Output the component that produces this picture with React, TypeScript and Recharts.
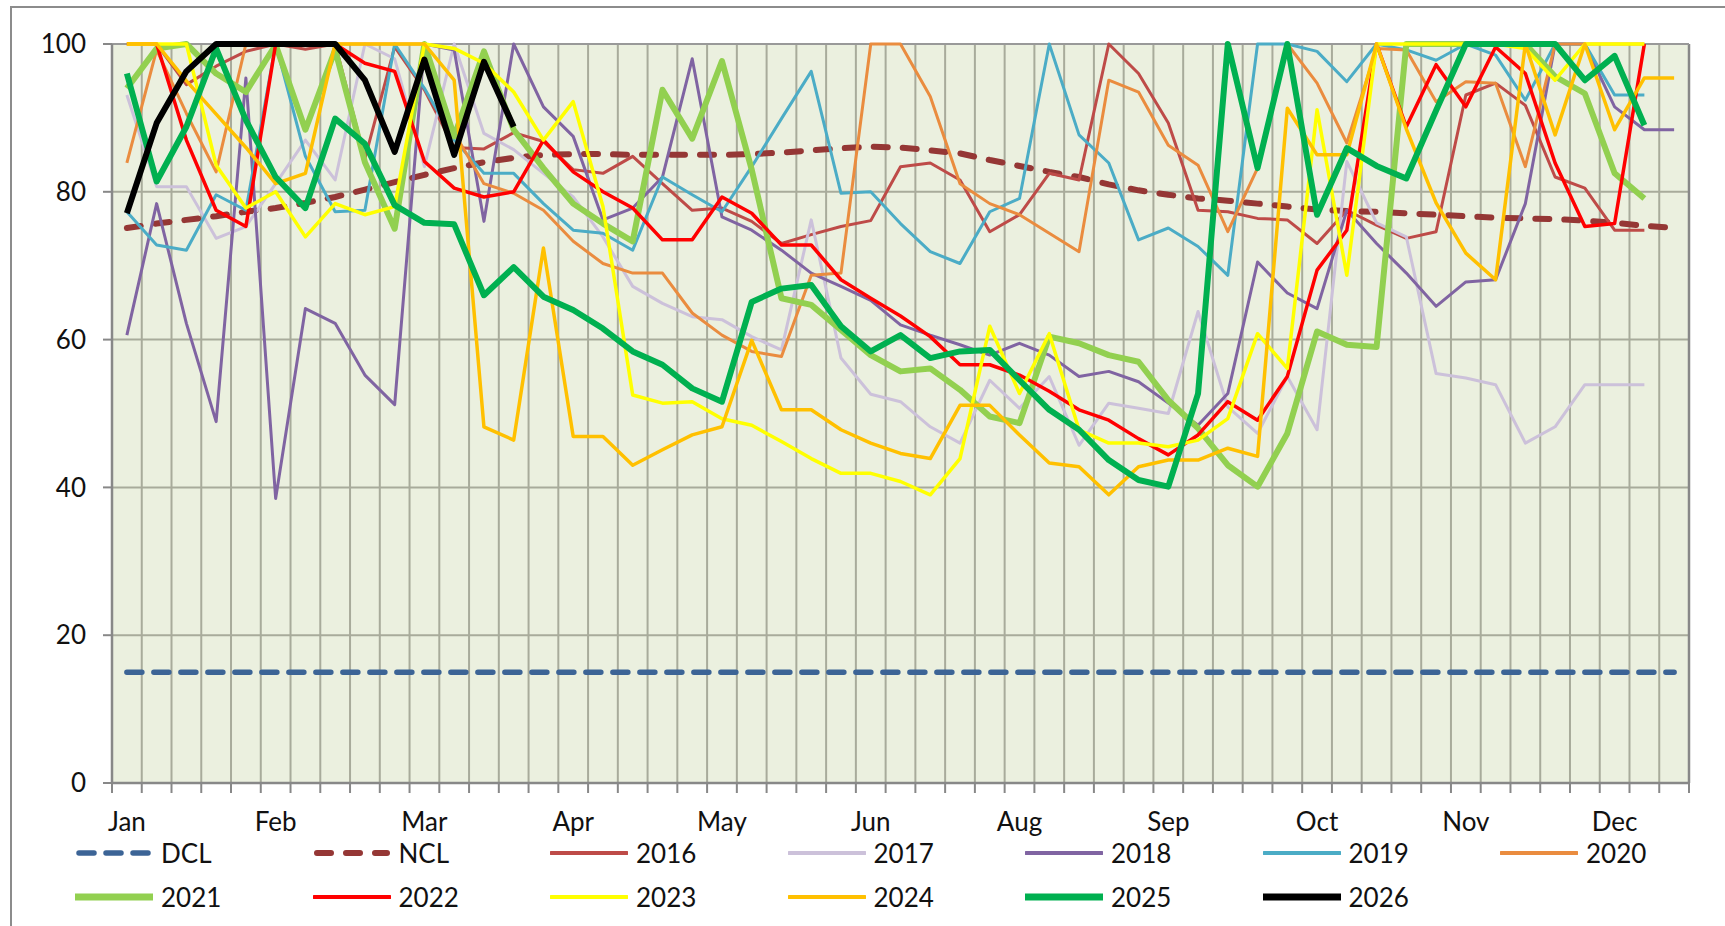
import React from "react";
import { LineChart, Line, XAxis, YAxis, CartesianGrid, ReferenceLine } from "recharts";

// weekly readings, 53 weeks per year, labels every 5th week
const monthLabels = ["Jan", "Feb", "Mar", "Apr", "May", "Jun", "Aug", "Sep", "Oct", "Nov", "Dec"];
const weekCount = 53;
const yTicks = [0, 20, 40, 60, 80, 100];

const dcl = [
  15, 15, 15, 15, 15, 15, 15, 15, 15, 15, 15, 15, 15, 15, 15, 15, 15, 15, 15, 15, 15, 15, 15, 15, 15, 15, 15,
  15, 15, 15, 15, 15, 15, 15, 15, 15, 15, 15, 15, 15, 15, 15, 15, 15, 15, 15, 15, 15, 15, 15, 15, 15, 15,
];
const ncl = [
  75.1, 75.7, 76.2, 76.7, 77.3, 77.8, 78.5, 79.3, 80.3, 81.3, 82.3, 83.2, 84, 84.6, 85, 85.1, 85.1, 85, 85, 85,
  85, 85.1, 85.3, 85.6, 85.9, 86.1, 86, 85.6, 85.2, 84.3, 83.5, 82.7, 82, 81, 80.2, 79.6, 79.1, 78.8, 78.4, 78,
  77.6, 77.4, 77.3, 77.1, 76.9, 76.7, 76.5, 76.4, 76.3, 76.1, 75.8, 75.4, 75.1,
];
const y2016 = [
  100, 100, 94.5, 97, 99, 100, 99.3, 100, 84.5, 99.6, 93.8, 86, 85.8, 88, 86.8, 83, 82.5, 84.8, 81.1, 77.5, 77.8,
  76, 73, 74.2, 75.3, 76.1, 83.4, 83.9, 81.6, 74.6, 76.9, 82.5, 81.6, 100, 96, 89.3, 77.5, 77.3, 76.4, 76.2, 73,
  77.5, 75.5, 73.7, 74.6, 93.1, 94.7, 91.7, 82, 80.5, 74.8, 74.8,
];
const y2017 = [
  93.1, 80.7, 80.7, 73.7, 75.3, 81.1, 87, 81.6, 100, 98, 83.4, 100, 87.9, 85.7, 82.5, 79.3, 73.9, 67.2, 64.9,
  63.1, 62.7, 60.4, 58.6, 76.2, 57.5, 52.6, 51.6, 48.2, 46, 54.5, 50.7, 55, 45.7, 51.4, 50.7, 50, 63.8, 50.9,
  47.3, 55, 47.8, 84.1, 75.8, 73.9, 55.4, 54.8, 53.9, 46, 48.2, 53.9, 53.9, 53.9,
];
const y2018 = [
  60.6, 78.4, 62.2, 48.9, 95.4, 38.5, 64.2, 62.2, 55.2, 51.2, 100, 99.2, 76, 100, 91.5, 87.5, 76.2, 77.8, 82, 98,
  76.6, 74.8, 72.1, 69, 67.2, 65.3, 62, 60.6, 59.3, 57.9, 59.5, 57.9, 55, 55.7, 54.3, 51.4, 48.4, 52.7, 70.5,
  66.3, 64.2, 77.5, 73, 69, 64.5, 67.8, 68.1, 78.4, 100, 100, 91.5, 88.4, 88.4,
];
const y2019 = [
  77.3, 72.8, 72.1, 79.6, 77.5, 100, 84.8, 77.3, 77.5, 100, 94, 87, 82.5, 82.5, 78.4, 74.8, 74.4, 72.1, 82, 79.6,
  77.3, 83.4, 89.9, 96.3, 79.8, 80, 75.7, 71.9, 70.3, 77.3, 79.1, 100, 87.7, 83.9, 73.5, 75.1, 72.6, 68.7, 100,
  100, 99, 94.9, 100, 99.2, 97.8, 100, 98.5, 92.4, 100, 100, 93.1, 93.1,
];
const y2020 = [
  83.9, 99.2, 90.6, 82.7, 100, 100, 100, 100, 100, 100, 100, 88, 81.1, 79.8, 77.5, 73.3, 70.3, 69, 69, 63.6, 60.6,
  58.4, 57.7, 68.7, 69, 100, 100, 92.9, 81.1, 78.4, 76.9, 74.4, 71.9, 95.1, 93.5, 86.3, 83.6, 74.6, 83.2, 100,
  94.7, 86.6, 99.4, 99.2, 92.2, 94.9, 94.7, 83.4, 100, 100, 100, 100,
];
const y2021 = [
  94, 99.4, 100, 96, 93.5, 99.9, 88.4, 99.2, 84, 75, 100, 87.5, 99, 88.4, 83.2, 78.4, 75.7, 73.3, 93.8, 87.2, 97.7,
  83, 65.6, 64.7, 61.3, 57.9, 55.7, 56.1, 53.2, 49.6, 48.7, 60.4, 59.5, 57.9, 57, 51.8, 48, 43, 40.1, 47.3, 61.1,
  59.3, 59, 100, 100, 100, 100, 100, 95.6, 93.3, 82.5, 79.1,
];
const y2022 = [
  100, 100, 87, 77.5, 75.3, 100, 100, 100, 97.4, 96.3, 84.1, 80.5, 79.3, 80, 87, 82.7, 80, 77.8, 73.5, 73.5, 79.3,
  77.1, 72.8, 72.8, 68.1, 65.6, 63.2, 60.4, 56.6, 56.6, 55.2, 53, 50.5, 49.1, 46.6, 44.4, 47.1, 51.6, 49.1, 55,
  69.4, 74.8, 100, 88.8, 97.2, 91.5, 99.6, 96, 83.9, 75.3, 75.7, 100,
];
const y2023 = [
  100, 100, 100, 83.6, 77.8, 80, 73.9, 78.4, 76.9, 78, 100, 99.4, 97.4, 93.5, 87, 92.2, 78, 52.5, 51.4, 51.6, 49.3,
  48.4, 46.2, 43.9, 41.9, 41.9, 40.8, 39, 43.9, 61.8, 52.7, 60.8, 47.8, 46, 46, 45.5, 46.4, 49.3, 60.8, 56.1,
  91.1, 68.7, 100, 100, 100, 100, 100, 99.4, 95.1, 100, 100, 100,
];
const y2024 = [
  100, 100, 95, 90.5, 86, 81.1, 82.5, 100, 100, 100, 100, 95.1, 48.2, 46.4, 72.4, 46.9, 46.9, 43, 45.1, 47.1, 48.2,
  59.9, 50.5, 50.5, 47.8, 46, 44.6, 43.9, 51.1, 51.1, 47.1, 43.3, 42.8, 39, 42.8, 43.7, 43.7, 45.3, 44.2, 91.3,
  85, 85, 100, 88.5, 78.5, 71.7, 68.1, 100, 87.7, 100, 88.4, 95.4, 95.4,
];
const y2025 = [
  96, 81.4, 88.8, 99.4, 89.7, 82, 77.8, 89.9, 86.5, 78.2, 75.8, 75.6, 66, 69.8, 65.8, 64, 61.5, 58.4, 56.6, 53.4,
  51.6, 65.1, 66.9, 67.4, 61.8, 58.4, 60.6, 57.5, 58.4, 58.6, 54.5, 50.5, 47.8, 43.7, 41, 40.1, 52.7, 100, 83.2,
  100, 76.9, 85.9, 83.5, 81.8, 91, 100, 100, 100, 100, 95.1, 98.4, 89,
];
const y2026 = [77.1, 89.3, 96.3, 100, 100, 100, 100, 100, 95.1, 85.4, 97.9, 85, 97.6, 88.8];

type Series = { name: string; values: number[]; color: string; width: number; legendWidth: number; dash?: string };

const series: Series[] = [
  { name: "DCL", values: dcl, color: "#3C6496", width: 5.5, legendWidth: 5.5, dash: "15 12" },
  { name: "NCL", values: ncl, color: "#953735", width: 6, legendWidth: 6, dash: "14 15" },
  { name: "2016", values: y2016, color: "#BE4B48", width: 3, legendWidth: 4 },
  { name: "2017", values: y2017, color: "#CCC1DA", width: 3, legendWidth: 4 },
  { name: "2018", values: y2018, color: "#8064A2", width: 3, legendWidth: 4 },
  { name: "2019", values: y2019, color: "#4BACC6", width: 3, legendWidth: 4 },
  { name: "2020", values: y2020, color: "#EA8C3F", width: 3, legendWidth: 4 },
  { name: "2021", values: y2021, color: "#92D050", width: 6, legendWidth: 7 },
  { name: "2022", values: y2022, color: "#FF0000", width: 3.5, legendWidth: 4 },
  { name: "2023", values: y2023, color: "#FFFF00", width: 3.5, legendWidth: 4 },
  { name: "2024", values: y2024, color: "#FFC000", width: 3.5, legendWidth: 4 },
  { name: "2025", values: y2025, color: "#00B050", width: 6, legendWidth: 7 },
  { name: "2026", values: y2026, color: "#000000", width: 6, legendWidth: 7 },
];

const weeks = Array.from({ length: weekCount }, (_, i) => i);
const rows = weeks.map((week) => {
  const row: Record<string, number> = { week };
  series.forEach((s) => {
    if (week < s.values.length) row[s.name] = s.values[week];
  });
  return row;
});

// category boundaries for grid + tick marks, labels sit on category centres
const boundaries = [...weeks.map((w) => w - 0.5), weekCount - 0.5];
const labelTicks = monthLabels.map((_, k) => k * 5);

const FONT = "Lato, 'Open Sans', sans-serif";
const GRID = "#A8AB9B";
const AXIS = "#888888";

const Legend = () => (
  <>
    {series.map((s, i) => {
      const row = i < 7 ? 0 : 1;
      const col = row === 0 ? i : i - 7;
      return (
        <div
          key={s.name}
          style={{
            position: "absolute",
            left: 75 + col * 237.5,
            top: (row === 0 ? 853 : 897) - 16,
            height: 32,
            display: "flex",
            alignItems: "center",
          }}
        >
          <svg width={78} height={14}>
            <line
              x1={s.dash ? 4 : 1}
              y1={7}
              x2={s.dash ? 74 : 77}
              y2={7}
              stroke={s.color}
              strokeWidth={s.legendWidth}
              strokeDasharray={s.dash}
              strokeLinecap="round"
            />
          </svg>
          <span style={{ marginLeft: 8, fontSize: 26, color: "#111", lineHeight: "32px" }}>{s.name}</span>
        </div>
      );
    })}
  </>
);

export default function App() {
  return (
    <div
      style={{
        position: "absolute",
        left: 0,
        top: 0,
        width: 1725,
        height: 926,
        overflow: "hidden",
        background: "#fff",
        fontFamily: FONT,
      }}
    >
      <div
        style={{
          position: "absolute",
          left: 10,
          top: 6,
          width: 1730,
          height: 940,
          borderTop: "2px solid #8C8C8C",
          borderLeft: "2px solid #8C8C8C",
        }}
      />
      <div style={{ position: "absolute", left: 0, top: 0 }}>
        <LineChart width={1725} height={926} data={rows} margin={{ top: 44, right: 36, left: 52, bottom: 93 }}>
          <CartesianGrid stroke={GRID} strokeWidth={2} fill="#EBF0DF" fillOpacity={1} />
          <XAxis
            type="number"
            dataKey="week"
            domain={[-0.5, weekCount - 0.5]}
            ticks={boundaries}
            interval={0}
            tickFormatter={() => ""}
            tickSize={10}
            height={10}
            axisLine={{ stroke: AXIS, strokeWidth: 2.5 }}
            tickLine={{ stroke: AXIS, strokeWidth: 2 }}
          />
          <XAxis
            xAxisId="lab"
            type="number"
            dataKey="week"
            domain={[-0.5, weekCount - 0.5]}
            ticks={labelTicks}
            interval={0}
            tickFormatter={(v: number) => monthLabels[Math.round(v / 5)]}
            axisLine={false}
            tickLine={false}
            tickSize={0}
            tickMargin={20}
            height={40}
            tick={{ fontSize: 26, fill: "#111", fontFamily: FONT }}
          />
          <YAxis
            type="number"
            domain={[0, 100]}
            ticks={yTicks}
            interval={0}
            width={60}
            tickSize={9}
            tickMargin={17}
            axisLine={{ stroke: AXIS, strokeWidth: 2.5 }}
            tickLine={{ stroke: AXIS, strokeWidth: 2 }}
            tick={{ fontSize: 26, fill: "#111", fontFamily: FONT }}
          />
          <ReferenceLine x={weekCount - 0.5} stroke={AXIS} strokeWidth={2.5} />
          <ReferenceLine y={100} stroke="#999" strokeWidth={2} />
          {series.map((s) => (
            <Line
              key={s.name}
              type="linear"
              dataKey={s.name}
              stroke={s.color}
              strokeWidth={s.width}
              strokeDasharray={s.dash}
              strokeLinecap={s.dash ? "round" : "butt"}
              strokeLinejoin="round"
              dot={false}
              activeDot={false}
              isAnimationActive={false}
            />
          ))}
        </LineChart>
      </div>
      <Legend />
    </div>
  );
}
